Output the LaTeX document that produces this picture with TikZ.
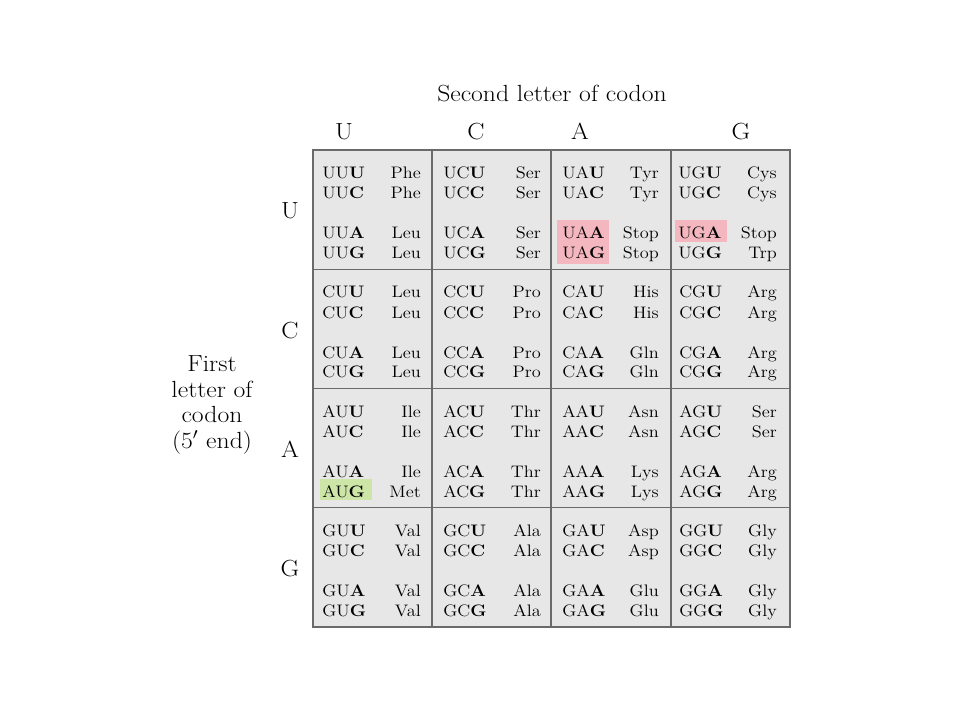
\documentclass[tikz,border=0pt]{standalone}
\usepackage{fontspec}
\definecolor{cellbg}{HTML}{E7E7E7}
\definecolor{gridc}{HTML}{6A6A6A}
\definecolor{stoppink}{HTML}{F4B7BF}
\definecolor{startgreen}{HTML}{CDE5A6}
\newcommand{\sx}[1]{\scalebox{1.1}[1]{#1}}
\newcommand{\cblk}[9]{%
  \node[cell,anchor=base west] (#2#3U) at (#4,#1+28.5) {\sx{#2#3\textbf{U}}};
  \node[cell,anchor=base west] (#2#3C) at (#4,#1+49) {\sx{#2#3\textbf{C}}};
  \node[cell,anchor=base west] (#2#3A) at (#4,#1+89) {\sx{#2#3\textbf{A}}};
  \node[cell,anchor=base west] (#2#3G) at (#4,#1+108.5) {\sx{#2#3\textbf{G}}};
  \node[cell,anchor=base east] (#2#3U-aa) at (#5,#1+28.5) {\sx{#6}};
  \node[cell,anchor=base east] (#2#3C-aa) at (#5,#1+49) {\sx{#7}};
  \node[cell,anchor=base east] (#2#3A-aa) at (#5,#1+89) {\sx{#8}};
  \node[cell,anchor=base east] (#2#3G-aa) at (#5,#1+108.5) {\sx{#9}};
}
\begin{document}
\begin{tikzpicture}[x=0.75pt,y=-0.75pt,
  cell/.style={font=\fontsize{12.5}{14}\selectfont, inner sep=0pt},
  lbl/.style={font=\fontsize{17.5}{19.1}\selectfont, inner sep=0pt, anchor=base},
  flbl/.style={lbl, text height=12pt, text depth=4pt},
  gridline/.style={draw=gridc, line width=1pt}]
\useasboundingbox (0,0) rectangle (960,720);
% background of table
\fill[cellbg] (313,150) rectangle (790,627);
% highlights
\fill[stoppink] (557,220) rectangle (609,264);
\fill[stoppink] (675,220) rectangle (727,242);
\fill[startgreen] (320,479) rectangle (372,499.5);
% grid
\draw[gridline] (313,150) rectangle (790,627);
\draw[gridline] (432,150) -- (432,627);
\draw[gridline] (551,150) -- (551,627);
\draw[gridline] (671,150) -- (671,627);
\draw[gridline] (313,269.3) -- (790,269.3);
\draw[gridline] (313,388.5) -- (790,388.5);
\draw[gridline] (313,507.8) -- (790,507.8);
% headings
\node[lbl] (second) at (552,102) {\sx{Second letter of codon}};
\node[lbl] (hU) at (344,140) {\sx{U}};
\node[lbl] (hC) at (476,140) {\sx{C}};
\node[lbl] (hA) at (580,140) {\sx{A}};
\node[lbl] (hG) at (741,140) {\sx{G}};
\node[lbl] (rU) at (290,219) {\sx{U}};
\node[lbl] (rC) at (290,338) {\sx{C}};
\node[lbl] (rA) at (290,457) {\sx{A}};
\node[lbl] (rG) at (290,576) {\sx{G}};
\node[flbl] (fl1) at (212,371.5) {\sx{First}};
\node[flbl] (fl2) at (212,397) {\sx{letter of}};
\node[flbl] (fl3) at (212,422.5) {\sx{codon}};
\node[flbl] (fl4) at (212,448) {\sx{(5$'$ end)}};
% U row
\cblk{150}{U}{U}{322}{421}{Phe}{Phe}{Leu}{Leu}
\cblk{150}{U}{C}{443}{541}{Ser}{Ser}{Ser}{Ser}
\cblk{150}{U}{A}{562}{659}{Tyr}{Tyr}{Stop}{Stop}
\cblk{150}{U}{G}{678}{777}{Cys}{Cys}{Stop}{Trp}
% C row
\cblk{269.3}{C}{U}{322}{421}{Leu}{Leu}{Leu}{Leu}
\cblk{269.3}{C}{C}{443}{541}{Pro}{Pro}{Pro}{Pro}
\cblk{269.3}{C}{A}{562}{659}{His}{His}{Gln}{Gln}
\cblk{269.3}{C}{G}{679}{777}{Arg}{Arg}{Arg}{Arg}
% A row
\cblk{388.5}{A}{U}{322}{421}{Ile}{Ile}{Ile}{Met}
\cblk{388.5}{A}{C}{443}{541}{Thr}{Thr}{Thr}{Thr}
\cblk{388.5}{A}{A}{562}{659}{Asn}{Asn}{Lys}{Lys}
\cblk{388.5}{A}{G}{679}{777}{Ser}{Ser}{Arg}{Arg}
% G row
\cblk{507.8}{G}{U}{322}{421}{Val}{Val}{Val}{Val}
\cblk{507.8}{G}{C}{443}{541}{Ala}{Ala}{Ala}{Ala}
\cblk{507.8}{G}{A}{562}{659}{Asp}{Asp}{Glu}{Glu}
\cblk{507.8}{G}{G}{679}{777}{Gly}{Gly}{Gly}{Gly}
\end{tikzpicture}
\end{document}
